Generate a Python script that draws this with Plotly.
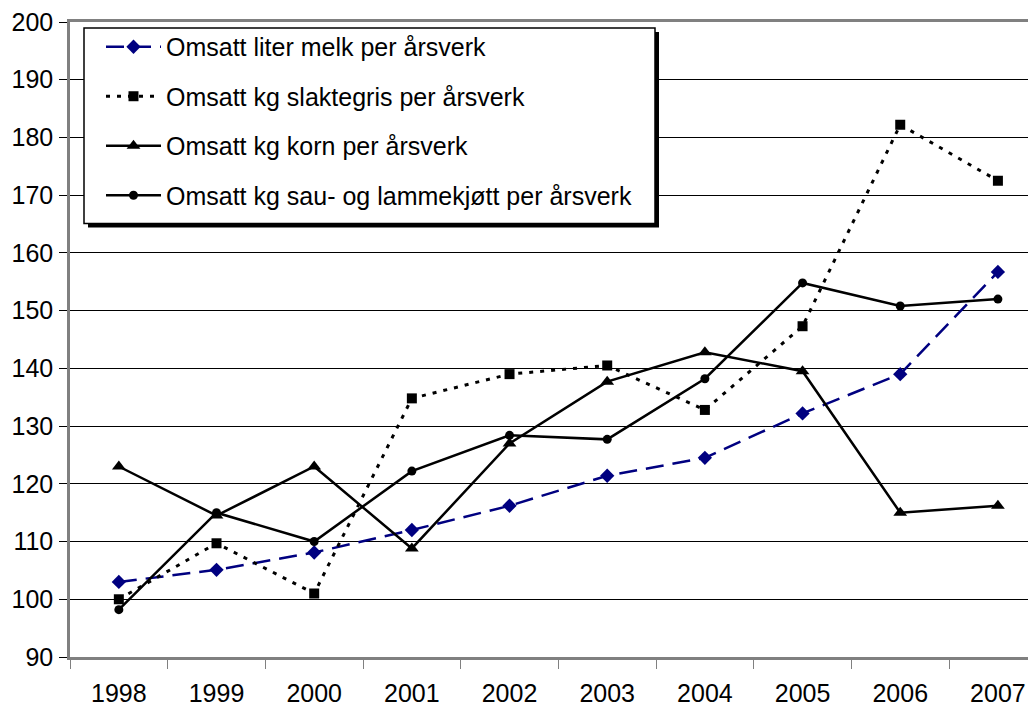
import plotly.graph_objects as go

years = ["1998", "1999", "2000", "2001", "2002", "2003", "2004", "2005", "2006", "2007"]

melk = [103.0, 105.1, 108.1, 112.0, 116.2, 121.4, 124.5, 132.2, 139.0, 156.7]
slaktegris = [100.0, 109.7, 101.0, 134.8, 139.0, 140.5, 132.8, 147.3, 182.2, 172.5]
korn = [123.0, 114.5, 123.0, 108.8, 127.0, 137.7, 142.8, 139.5, 115.0, 116.2]
sau_lam = [98.2, 115.0, 110.0, 122.2, 128.4, 127.7, 138.2, 154.8, 150.8, 152.0]

names = [
    "Omsatt liter melk per årsverk",
    "Omsatt kg slaktegris per årsverk",
    "Omsatt kg korn per årsverk",
    "Omsatt kg sau- og lammekjøtt per årsverk",
]

FONT = "Liberation Sans, Arial, sans-serif"

fig = go.Figure()
fig.add_trace(go.Scatter(
    x=years, y=melk, name=names[0], mode="lines+markers", legendgroup="a",
    line=dict(color="#000080", width=2.5, dash="18px,9px"),
    marker=dict(symbol="diamond", size=11, color="#000080"),
))
fig.add_trace(go.Scatter(
    x=years, y=slaktegris, name=names[1], mode="lines+markers", legendgroup="b",
    line=dict(color="black", width=3, dash="4px,7px"),
    marker=dict(symbol="square", size=10, color="black"),
))
fig.add_trace(go.Scatter(
    x=years, y=korn, name=names[2], mode="lines+markers", legendgroup="c",
    line=dict(color="black", width=2.5),
    marker=dict(symbol="triangle-up", size=12, color="black"),
))
fig.add_trace(go.Scatter(
    x=years, y=sau_lam, name=names[3], mode="lines+markers", legendgroup="d",
    line=dict(color="black", width=2.5),
    marker=dict(symbol="circle", size=9, color="black"),
))

# page body has an 8px margin, so the figure is placed at (8, 8)
# helpers turn screen pixels into paper coords of the plot area
def px_x(p):
    return (p - 70) / 966.0

def px_y(p):
    return (657 - p) / 640.0

# legend frame with drop shadow
fig.add_shape(type="rect", xref="paper", yref="paper",
              x0=px_x(88), x1=px_x(659), y0=px_y(27), y1=px_y(224),
              fillcolor="black", line=dict(width=0), layer="above")
fig.add_shape(type="rect", xref="paper", yref="paper",
              x0=px_x(84), x1=px_x(655), y0=px_y(23), y1=px_y(220),
              fillcolor="white", line=dict(color="black", width=1.5), layer="above")

fig.update_layout(
    width=1028, height=699,
    margin=dict(l=62, r=0, t=9, b=50),
    paper_bgcolor="white", plot_bgcolor="white",
    font=dict(family=FONT, size=25, color="black"),
    showlegend=True,
    legend=dict(
        x=px_x(101), y=px_y(19), xanchor="left", yanchor="top",
        bgcolor="rgba(0,0,0,0)", borderwidth=0,
        font=dict(size=25), itemwidth=55, tracegroupgap=14,
        traceorder="grouped",
    ),
    xaxis=dict(
        type="category", range=[-0.5, 9.39],
        showgrid=False, showline=True, linecolor="#808080", linewidth=2.5, mirror=True,
        ticks="outside", tickson="boundaries", ticklen=9, tickcolor="#808080",
        ticklabelstandoff=12,
    ),
    yaxis=dict(
        range=[90, 200], dtick=10, tick0=90,
        showgrid=True, gridcolor="black", gridwidth=1, zeroline=False,
        showline=True, linecolor="#808080", linewidth=2.5,
        ticks="outside", ticklen=8, tickcolor="black",
        ticklabelstandoff=1, ticklabeloverflow="allow",
    ),
)

fig.write_html("out.html")
